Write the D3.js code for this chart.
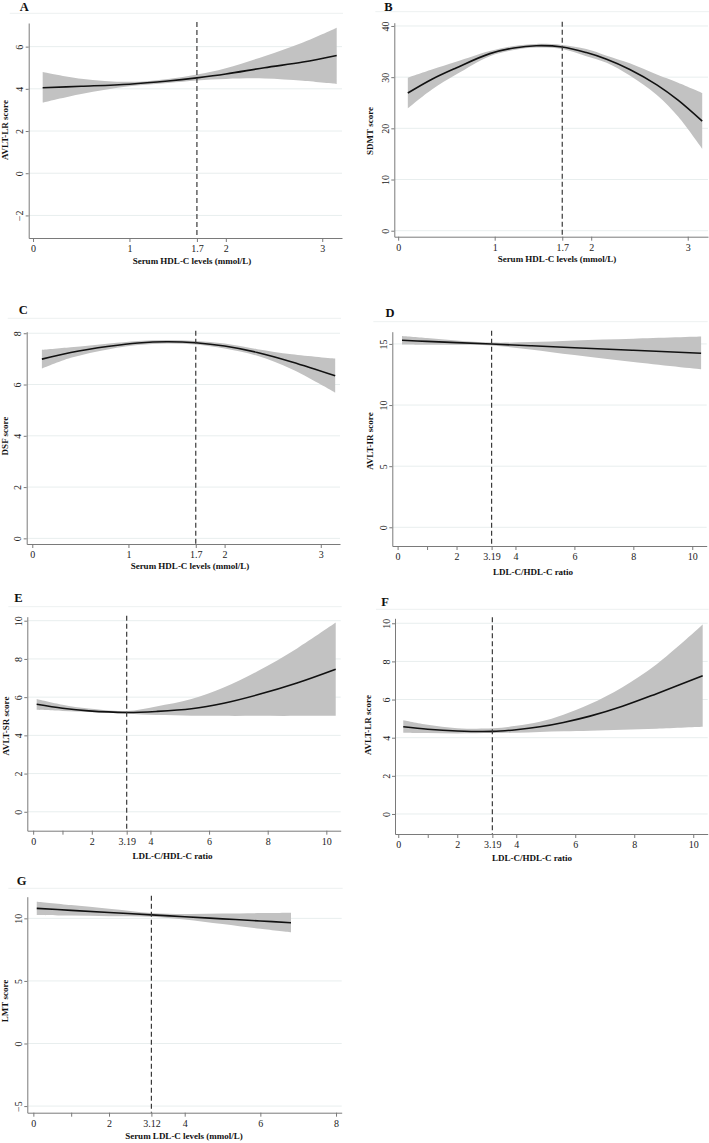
<!DOCTYPE html>
<html>
<head>
<meta charset="utf-8">
<script src="https://cdn.jsdelivr.net/npm/d3@7"></script>
<style>
  html, body { margin: 0; padding: 0; background: #ffffff; }
  svg { display: block; }
</style>
</head>
<body>
<div id="chart"></div>
<script>
// ---------------- DATA ----------------
// Panel A: AVLT-LR score vs serum HDL-C
const A_x   = [0.1, 0.5, 1.0, 1.4, 1.7, 2.0, 2.4, 2.8, 3.15];
const A_fit = [4.05, 4.12, 4.22, 4.37, 4.52, 4.70, 5.00, 5.27, 5.58];
const A_lo  = [3.35, 3.76, 4.12, 4.28, 4.40, 4.47, 4.49, 4.38, 4.23];
const A_hi  = [4.80, 4.48, 4.33, 4.47, 4.68, 4.98, 5.55, 6.20, 6.90];

// Panel B: SDMT score vs serum HDL-C
const B_x   = [0.1, 0.35, 0.6, 0.95, 1.2, 1.43, 1.7, 1.95, 2.16, 2.4, 2.68, 2.9, 3.15];
const B_fit = [26.9, 29.6, 31.8, 34.6, 35.7, 36.15, 35.9, 34.8, 33.5, 31.5, 28.5, 25.5, 21.4];
const B_lo  = [23.9, 27.6, 30.5, 34.1, 35.3, 35.8, 35.5, 34.1, 32.8, 30.3, 26.5, 22.3, 16.0];
const B_hi  = [29.9, 31.5, 33.0, 35.1, 36.1, 36.5, 36.3, 35.5, 34.2, 32.7, 30.5, 28.9, 26.9];

// Panel C: DSF score vs serum HDL-C
const C_x   = [0.1, 0.4, 0.8, 1.1, 1.4, 1.7, 2.0, 2.34, 2.7, 3.15];
const C_fit = [6.99, 7.25, 7.49, 7.62, 7.67, 7.63, 7.50, 7.25, 6.88, 6.34];
const C_lo  = [6.62, 7.04, 7.38, 7.54, 7.60, 7.56, 7.40, 7.12, 6.60, 5.69];
const C_hi  = [7.35, 7.45, 7.60, 7.70, 7.74, 7.70, 7.60, 7.38, 7.18, 7.01];

// Panel D: AVLT-IR score vs LDL-C/HDL-C ratio
const D_x   = [0.15, 1, 2, 3.19, 4.5, 6, 8, 10.3];
const D_fit = [15.30, 15.21, 15.11, 14.99, 14.85, 14.69, 14.48, 14.24];
const D_lo  = [14.96, 14.94, 14.93, 14.87, 14.55, 14.09, 13.53, 12.93];
const D_hi  = [15.65, 15.48, 15.29, 15.11, 15.15, 15.29, 15.43, 15.60];

// Panel E: AVLT-SR score vs LDL-C/HDL-C ratio
const E_x   = [0.12, 1, 1.9, 3.19, 4.2, 5.4, 6.5, 7.65, 9, 10.32];
const E_fit = [5.63, 5.42, 5.28, 5.20, 5.25, 5.39, 5.68, 6.12, 6.74, 7.46];
const E_lo  = [5.34, 5.28, 5.22, 5.13, 5.06, 5.03, 5.02, 5.02, 5.02, 5.03];
const E_hi  = [5.90, 5.60, 5.40, 5.27, 5.51, 5.90, 6.50, 7.35, 8.55, 9.90];

// Panel F: AVLT-LR score vs LDL-C/HDL-C ratio
const F_x   = [0.17, 1, 2, 3.2, 4.0, 4.8, 5.6, 6.5, 7.6, 8.76, 10.32];
const F_fit = [4.57, 4.44, 4.35, 4.33, 4.42, 4.57, 4.80, 5.13, 5.65, 6.31, 7.25];
const F_lo  = [4.26, 4.24, 4.22, 4.24, 4.26, 4.30, 4.34, 4.37, 4.42, 4.47, 4.57];
const F_hi  = [4.92, 4.68, 4.50, 4.49, 4.62, 4.83, 5.20, 5.76, 6.65, 7.85, 9.93];

// Panel G: LMT score vs serum LDL-C
const G_x   = [0.09, 1, 2, 3.12, 4, 5, 6, 6.81];
const G_fit = [10.80, 10.64, 10.47, 10.28, 10.13, 9.96, 9.79, 9.65];
const G_lo  = [10.27, 10.22, 10.17, 10.13, 9.91, 9.54, 9.16, 8.88];
const G_hi  = [11.33, 11.06, 10.77, 10.43, 10.35, 10.38, 10.42, 10.45];

// Ticks and labels
const hdlTicks    = [0, 1, 1.7, 2, 3];
const hdlLabels   = ["0", "1", "1.7", "2", "3"];
const ratioTicks  = [0, 1, 2, 3.19, 4, 6, 8, 10];
const ratioLabels = ["0", "", "2", "3.19", "4", "6", "8", "10"];
const ldlTicks    = [0, 1, 2, 3.12, 4, 6, 8];
const ldlLabels   = ["0", "", "2", "3.12", "4", "6", "8"];

const yTicksA = [-2, 0, 2, 4, 6];
const yTicksB = [0, 10, 20, 30, 40];
const yTicksC = [0, 2, 4, 6, 8];
const yTicksD = [0, 5, 10, 15];
const yTicksEF = [0, 2, 4, 6, 8, 10];
const yTicksG = [-5, 0, 5, 10];

const cutoffs = { hdl: 1.7, ratio: 3.19, ldl: 3.12 };

const xTitles = {
  hdl: "Serum HDL-C levels (mmol/L)",
  ratio: "LDL-C/HDL-C ratio",
  ldl: "Serum LDL-C levels (mmol/L)"
};
const yTitles = ["AVLT-LR score", "SDMT score", "DSF score", "AVLT-IR score", "AVLT-SR score", "AVLT-LR score", "LMT score"];
const letters = ["A", "B", "C", "D", "E", "F", "G"];

// ---------------- LAYOUT ----------------
const W = 709, H = 1143;
const FONT = "'Liberation Serif', 'Times New Roman', Times, serif";

const panels = [
  { letter: letters[0], xs: A_x, fit: A_fit, lo: A_lo, hi: A_hi, yTitle: yTitles[0], xTitle: xTitles.hdl,
    xTicks: hdlTicks, xLabels: hdlLabels, yTicks: yTicksA, cut: cutoffs.hdl,
    l: 28.7, r: 342, t: 23, b: 238, xd: [-0.045, 3.205], yd: [-3.07, 7.12],
    lx: 24.3, ly: 10.8, hy: 13.3, tx: 192, ty: 264, ytx: 5, yty: 130 },
  { letter: letters[1], xs: B_x, fit: B_fit, lo: B_lo, hi: B_hi, yTitle: yTitles[1], xTitle: xTitles.hdl,
    xTicks: hdlTicks, xLabels: hdlLabels, yTicks: yTicksB, cut: cutoffs.hdl,
    l: 394.3, r: 708, t: 22.7, b: 236.7, xd: [-0.04, 3.21], yd: [-1.17, 40.64],
    lx: 388.3, ly: 10.8, hy: 11.7, tx: 557, ty: 262.3, ytx: 370, yty: 131 },
  { letter: letters[2], xs: C_x, fit: C_fit, lo: C_lo, hi: C_hi, yTitle: yTitles[2], xTitle: xTitles.hdl,
    xTicks: hdlTicks, xLabels: hdlLabels, yTicks: yTicksC, cut: cutoffs.hdl,
    l: 26.7, r: 340, t: 331.7, b: 544, xd: [-0.058, 3.2], yd: [-0.22, 8.06],
    lx: 23.3, ly: 314.1, hy: 318.3, tx: 190, ty: 569, ytx: 5, yty: 436 },
  { letter: letters[3], xs: D_x, fit: D_fit, lo: D_lo, hi: D_hi, yTitle: yTitles[3], xTitle: xTitles.ratio,
    xTicks: ratioTicks, xLabels: ratioLabels, yTicks: yTicksD, cut: cutoffs.ratio,
    l: 392.3, r: 706.7, t: 331.7, b: 546, xd: [-0.18, 10.49], yd: [-1.53, 16.0],
    lx: 390, ly: 316.8, hy: 321.7, tx: 533, ty: 574.7, ytx: 370, yty: 441 },
  { letter: letters[4], xs: E_x, fit: E_fit, lo: E_lo, hi: E_hi, yTitle: yTitles[4], xTitle: xTitles.ratio,
    xTicks: ratioTicks, xLabels: ratioLabels, yTicks: yTicksEF, cut: cutoffs.ratio,
    l: 27.3, r: 340.7, t: 616.7, b: 830.7, xd: [-0.2, 10.49], yd: [-0.99, 10.21],
    lx: 18.3, ly: 602.4, hy: 606.7, tx: 172.5, ty: 859, ytx: 6, yty: 726 },
  { letter: letters[5], xs: F_x, fit: F_fit, lo: F_lo, hi: F_hi, yTitle: yTitles[5], xTitle: xTitles.ratio,
    xTicks: ratioTicks, xLabels: ratioLabels, yTicks: yTicksEF, cut: cutoffs.ratio,
    l: 395, r: 707.7, t: 618.3, b: 834, xd: [-0.11, 10.49], yd: [-1.05, 10.26],
    lx: 385, ly: 605.8, hy: 609.3, tx: 532, ty: 861, ytx: 368.3, yty: 725 },
  { letter: letters[6], xs: G_x, fit: G_fit, lo: G_lo, hi: G_hi, yTitle: yTitles[6], xTitle: xTitles.ldl,
    xTicks: ldlTicks, xLabels: ldlLabels, yTicks: yTicksG, cut: cutoffs.ldl,
    l: 27.3, r: 341.7, t: 896.7, b: 1112.7, xd: [-0.16, 8.15], yd: [-5.53, 11.73],
    lx: 21.7, ly: 884.8, hy: 888.3, tx: 184, ty: 1139, ytx: 5, yty: 1001 }
];

const svg = d3.select("#chart").append("svg")
  .attr("width", W).attr("height", H)
  .attr("viewBox", `0 0 ${W} ${H}`)
  .style("background", "#ffffff");

const smooth = d3.curveCatmullRom.alpha(0.5);

function drawPanel(p) {
  const x = d3.scaleLinear().domain(p.xd).range([p.l, p.r]);
  const y = d3.scaleLinear().domain(p.yd).range([p.b, p.t]);
  const g = svg.append("g");

  // faint header rule
  g.append("line")
    .attr("x1", p.l - 19).attr("x2", p.r + 1)
    .attr("y1", p.hy).attr("y2", p.hy)
    .attr("stroke", "#edf1f1").attr("stroke-width", 1);

  // panel letter
  g.append("text").text(p.letter)
    .attr("x", p.lx).attr("y", p.ly)
    .attr("text-anchor", "middle")
    .style("font-family", FONT).style("font-weight", "bold").style("font-size", "12.5px")
    .attr("fill", "#111");

  // gridlines
  g.selectAll("line.grid").data(p.yTicks).enter().append("line")
    .attr("class", "grid")
    .attr("x1", p.l).attr("x2", p.r)
    .attr("y1", d => y(d)).attr("y2", d => y(d))
    .attr("stroke", "#e8eeee").attr("stroke-width", 1);

  const pts = p.xs.map((xv, i) => ({ x: xv, fit: p.fit[i], lo: p.lo[i], hi: p.hi[i] }));

  // confidence band
  g.append("path").datum(pts)
    .attr("d", d3.area().x(d => x(d.x)).y0(d => y(d.lo)).y1(d => y(d.hi)).curve(smooth))
    .attr("fill", "#c2c2c2").attr("stroke", "none");

  // fitted line
  g.append("path").datum(pts)
    .attr("d", d3.line().x(d => x(d.x)).y(d => y(d.fit)).curve(smooth))
    .attr("fill", "none").attr("stroke", "#111").attr("stroke-width", 1.6);

  // cut-off dashed line
  g.append("line")
    .attr("x1", x(p.cut)).attr("x2", x(p.cut))
    .attr("y1", p.t - 1).attr("y2", p.b)
    .attr("stroke", "#3a3a3a").attr("stroke-width", 1.2)
    .attr("stroke-dasharray", "5,3");

  // x axis
  const xa = g.append("g").attr("transform", `translate(0,${p.b})`)
    .call(d3.axisBottom(x).tickValues(p.xTicks)
      .tickFormat((d, i) => p.xLabels[i]).tickSize(4).tickSizeOuter(0).tickPadding(3));
  xa.select(".domain").attr("stroke", "#7a7a7a").attr("stroke-width", 1);
  xa.selectAll(".tick line").attr("stroke", "#7a7a7a");
  xa.selectAll(".tick text")
    .style("font-family", FONT).style("font-size", "10px").attr("fill", "#222");

  // y axis
  const ya = g.append("g").attr("transform", `translate(${p.l},0)`)
    .call(d3.axisLeft(y).tickValues(p.yTicks).tickSize(3).tickSizeOuter(0));
  ya.select(".domain").attr("stroke", "#7a7a7a").attr("stroke-width", 1);
  ya.selectAll(".tick line").attr("stroke", "#7a7a7a");
  ya.selectAll(".tick text")
    .attr("x", 0).attr("y", -9).attr("dy", "0.35em")
    .attr("transform", "rotate(-90)")
    .attr("text-anchor", "middle")
    .style("font-family", FONT).style("font-size", "10px").attr("fill", "#222");

  // x title
  g.append("text").text(p.xTitle)
    .attr("x", p.tx).attr("y", p.ty)
    .attr("text-anchor", "middle")
    .style("font-family", FONT).style("font-weight", "bold").style("font-size", "9px")
    .attr("fill", "#111");

  // y title
  g.append("text").text(p.yTitle)
    .attr("transform", `translate(${p.ytx},${p.yty}) rotate(-90)`)
    .attr("dy", "0.35em")
    .attr("text-anchor", "middle")
    .style("font-family", FONT).style("font-weight", "bold").style("font-size", "9px")
    .attr("fill", "#111");
}

panels.forEach(drawPanel);
</script>
</body>
</html>
